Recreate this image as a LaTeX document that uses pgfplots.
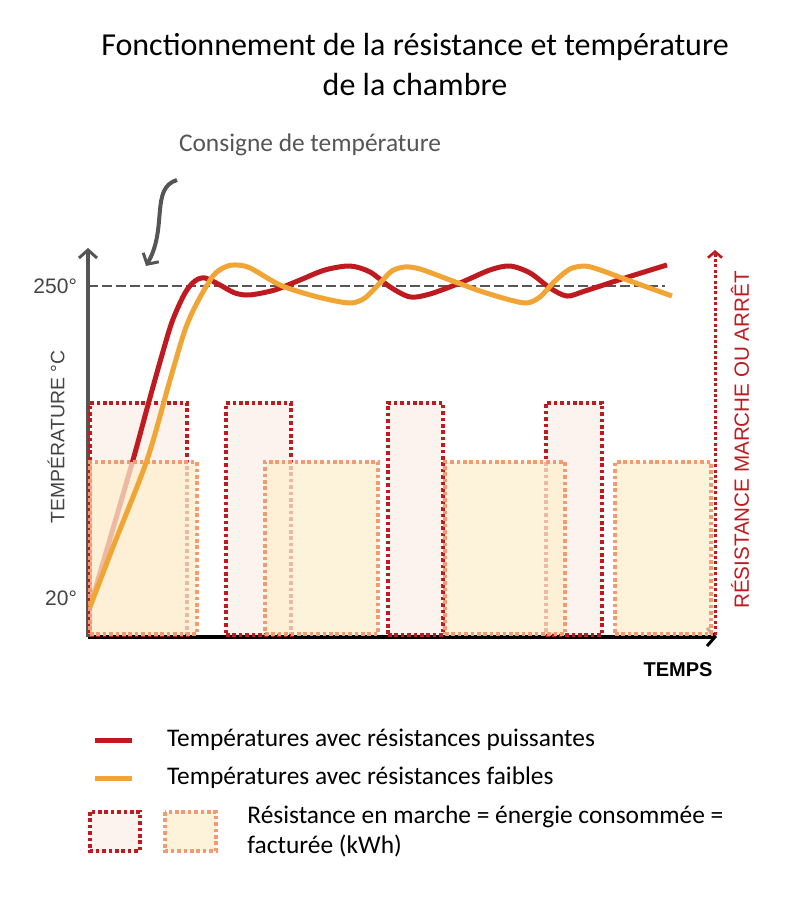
\documentclass[border=0pt]{standalone}
\usepackage{fontspec}
\setmainfont{Carlito}
\setsansfont{Liberation Sans}
\usepackage{pgfplots}
\pgfplotsset{compat=1.18}
\usetikzlibrary{arrows.meta}
\definecolor{redl}{HTML}{BF1A1F}
\definecolor{orl}{HTML}{F0A535}
\definecolor{redfill}{HTML}{FDF3EE}
\definecolor{orfill}{HTML}{FDEFCF}
\definecolor{ordraw}{HTML}{F59A6E}
\definecolor{axgray}{HTML}{555555}
\definecolor{labgray}{HTML}{444444}

% temperature curves, x = time, y = temperature
\pgfplotstableread{
x T
2 13.4
22 63.5
45 121.7
60 162.3
72 194.0
84 223.5
97 244.8
107 253.7
117 255.9
132 250.7
147 244.8
162 243.4
187 247.1
212 254.4
237 261.8
262 264.7
282 260.3
302 249.3
322 241.9
342 244.1
372 252.2
402 261.8
422 264.7
442 259.6
462 248.5
479 242.6
497 246.3
537 255.9
579 265.5
}\strongtab
\pgfplotstableread{
x T
2 13.4
25 57.6
59 121.7
82 180.7
97 217.6
109 237.5
125 257.4
137 264.0
147 265.5
162 263.3
192 250.7
222 243.4
247 239.0
264 237.5
277 241.2
292 252.2
304 261.1
317 264.0
332 262.5
362 254.4
392 246.3
422 239.7
439 237.5
452 241.9
467 253.7
482 262.5
497 264.7
512 261.8
542 253.7
584 242.6
}\weaktab

\tikzset{
  redbox/.style={fill=redfill, draw=redl, line width=1.8pt, dash pattern=on 1.8pt off 1.4pt},
  orbox/.style={fill=orfill, fill opacity=0.75, draw=ordraw, line width=1.8pt, dash pattern=on 1.8pt off 1.4pt},
}

\begin{document}
\begin{tikzpicture}
\begin{scope}[x=0.5pt, y=-0.5pt, shift={(-44pt,318.5pt)}]
  \useasboundingbox (0,0) rectangle (784,903);
\end{scope}

\begin{axis}[
  at={(0,0)}, anchor=south west,
  scale only axis, width=314.5pt, height=194.5pt,
  xmin=0, xmax=629, ymin=-8.75, ymax=278,
  axis lines=left,
  x axis line style={black, line width=2pt, -{Straight Barb[length=4pt,width=9pt,line width=1.5pt]}},
  y axis line style={axgray, line width=2pt, -{Straight Barb[length=4pt,width=9pt,line width=1.5pt]}},
  xtick=\empty,
  ytick={20,250}, yticklabels={\hbox{20°},\hbox{250°}},
  major tick length=0pt,
  yticklabel style={font=\sffamily\fontsize{10.5}{12}\selectfont, text=labgray, xshift=-2pt},
  clip=false,
]
% resistance on: strong resistances
\addplot[redbox] coordinates {(2,-7.3) (99,-7.3) (99,163.8) (2,163.8)} -- cycle;
\addplot[redbox] coordinates {(138,-7.3) (203,-7.3) (203,163.8) (138,163.8)} -- cycle;
\addplot[redbox] coordinates {(300,-7.3) (355,-7.3) (355,163.8) (300,163.8)} -- cycle;
\addplot[redbox] coordinates {(458,-7.3) (514,-7.3) (514,163.8) (458,163.8)} -- cycle;
% setpoint
\addplot[axgray, line width=1.2pt, dash pattern=on 5pt off 2pt] coordinates {(0,250) (577,250)};
\addplot[redl, line width=2.5pt, smooth, tension=0.5] table[x=x, y=T] {\strongtab};
% resistance on: weak resistances
\addplot[orbox] coordinates {(2,-6.5) (109,-6.5) (109,120.3) (2,120.3)} -- cycle;
\addplot[orbox] coordinates {(177,-6.5) (290,-6.5) (290,120.3) (177,120.3)} -- cycle;
\addplot[orbox] coordinates {(357,-6.5) (477,-6.5) (477,120.3) (357,120.3)} -- cycle;
\addplot[orbox] coordinates {(527,-6.5) (623,-6.5) (623,120.3) (527,120.3)} -- cycle;
\addplot[orl, line width=2.5pt, smooth, tension=0.5] table[x=x, y=T] {\weaktab};
% right axis: resistance on/off
\addplot[redl, line width=1.5pt, dash pattern=on 1.5pt off 1.2pt,
  -{Straight Barb[length=3pt,width=7pt,line width=1.3pt]}] coordinates {(627,-7) (627,276.5)};
\end{axis}

\begin{scope}[x=0.5pt, y=-0.5pt, shift={(-44pt,318.5pt)}]
  \node[font=\fontsize{16}{20}\selectfont, align=center] at (415,65)
    {Fonctionnement de la résistance et température\\de la chambre};
  \node[font=\fontsize{12.7}{15}\selectfont, text=axgray] at (310,145) {Consigne de température};
  \draw[axgray, line width=2pt, -{Straight Barb[length=4pt,width=9pt,line width=1.5pt]}]
    (177,180) .. controls (150,188) and (168,228) .. (146,266);
  \node[font=\sffamily\fontsize{9.7}{11}\selectfont, text=labgray, rotate=90] at (56,437) {TEMPÉRATURE °C};
  \node[font=\sffamily\fontsize{10.3}{12}\selectfont, text=redl, rotate=90] at (740,440) {RÉSISTANCE MARCHE OU ARRÊT};
  \node[font=\sffamily\bfseries\fontsize{10}{12}\selectfont] at (678,670) {TEMPS};
  % legend
  \draw[redl, line width=2.5pt] (95,740) -- (132,740);
  \draw[orl, line width=2.5pt] (95,778) -- (132,778);
  \node[anchor=west, font=\fontsize{12.7}{15}\selectfont] at (160,740) {Températures avec résistances puissantes};
  \node[anchor=west, font=\fontsize{12.7}{15}\selectfont] at (160,778) {Températures avec résistances faibles};
  \draw[redbox] (90,812) rectangle (140,851);
  \draw[orbox] (165,812) rectangle (216,851);
  \node[anchor=north west, align=left, font=\fontsize{12.7}{15}\selectfont, inner sep=0pt] at (247,805)
    {Résistance en marche = énergie consommée =\\facturée (kWh)};
\end{scope}
\end{tikzpicture}
\end{document}
